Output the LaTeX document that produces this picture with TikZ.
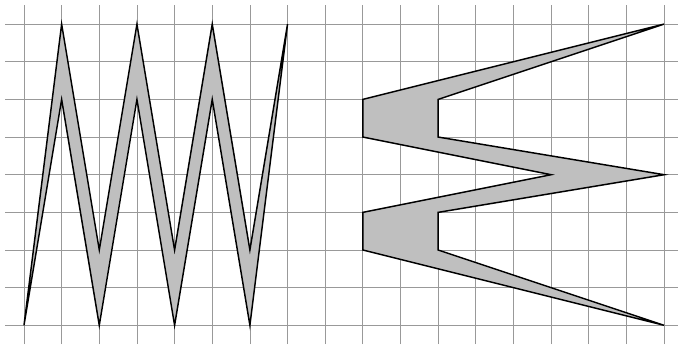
\documentclass[tikz,border=0pt]{standalone}
\begin{document}
\begin{tikzpicture}[x=1cm,y=1cm,
  gridline/.style={gray!80, line width=0.6pt},
  shapeline/.style={draw=black, fill=black!25, line width=1.1pt, line join=miter}]
\useasboundingbox (-0.637,-0.505) rectangle (17.37,8.64);
\draw[gridline] (-0.5,-0.5) grid (17.5,8.5);
\path[shapeline] (0,0) -- (1,8) -- (2,2) -- (3,8) -- (4,2) -- (5,8) -- (6,2) -- (7,8)
  -- (6,0) -- (5,6) -- (4,0) -- (3,6) -- (2,0) -- (1,6) -- cycle;
\path[shapeline] (17,8) -- (9,6) -- (9,5) -- (14,4) -- (9,3) -- (9,2) -- (17,0)
  -- (11,2) -- (11,3) -- (17,4) -- (11,5) -- (11,6) -- cycle;
\end{tikzpicture}
\end{document}
